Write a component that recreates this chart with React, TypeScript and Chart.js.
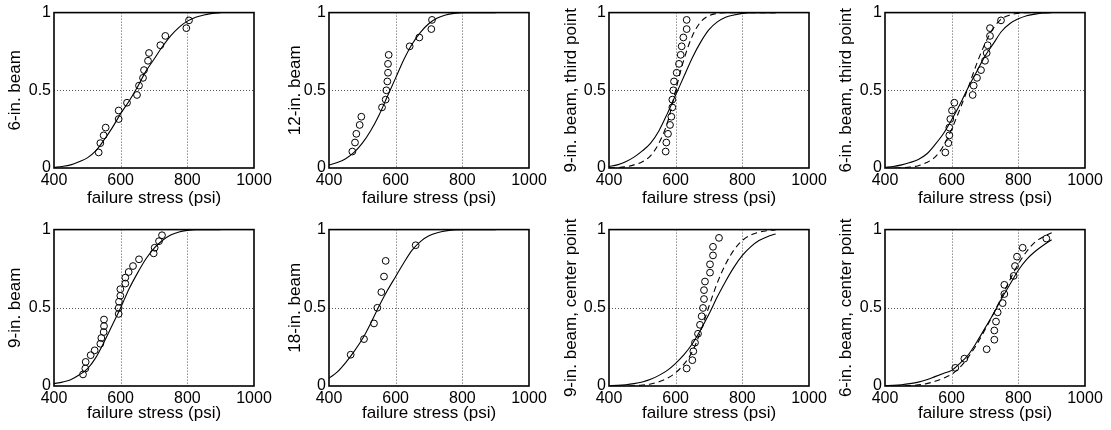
import { useEffect, useRef } from 'react';
import { Chart, registerables } from 'chart.js';

Chart.register(...registerables);

// ---------- data ----------
const curveX = [400, 425, 450, 475, 500, 525, 550, 575, 600, 625, 650, 675, 700, 725, 750, 775, 800, 825, 850, 875, 900];
const xTicks = [400, 600, 800, 1000];
const yTicks = [0, 0.5, 1];
const xTitle = 'failure stress (psi)';

const labels = [
  '6-in. beam',
  '12-in. beam',
  '9-in. beam, third point',
  '6-in. beam, third point',
  '9-in. beam',
  '18-in. beam',
  '9-in. beam, center point',
  '6-in. beam, center point',
];

// panel 1: 6-in. beam
const p1x = [534, 539, 549, 555, 594, 594, 619, 649, 655, 667, 670, 682, 685, 719, 734, 797, 805];
const p1y = [0.10, 0.16, 0.21, 0.26, 0.315, 0.37, 0.42, 0.47, 0.53, 0.58, 0.63, 0.69, 0.74, 0.79, 0.85, 0.90, 0.95];
const solid1 = [0.004, 0.01, 0.02, 0.04, 0.065, 0.11, 0.18, 0.26, 0.35, 0.43, 0.52, 0.62, 0.70, 0.78, 0.85, 0.905, 0.945, 0.97, 0.985, 0.995, 1.0];

// panel 2: 12-in. beam
const p2x = [470, 478, 482, 492, 497, 559, 570, 572, 575, 577, 577, 579, 642, 671, 707, 709];
const p2y = [0.106, 0.164, 0.22, 0.277, 0.33, 0.39, 0.44, 0.50, 0.557, 0.613, 0.67, 0.728, 0.783, 0.84, 0.894, 0.953];
const solid2 = [0.02, 0.035, 0.06, 0.10, 0.16, 0.24, 0.34, 0.46, 0.58, 0.70, 0.80, 0.875, 0.93, 0.965, 0.985, 0.995, 1.0, 1.0, 1.0, 1.0, 1.0];

// panel 3: 9-in. beam, third point
const p3x = [570, 572, 577, 583, 587, 590, 590, 593, 595, 603, 610, 615, 618, 623, 633, 633];
const p3y = [0.106, 0.164, 0.22, 0.277, 0.33, 0.39, 0.44, 0.50, 0.557, 0.613, 0.67, 0.728, 0.783, 0.84, 0.894, 0.953];
const solid3 = [0.01, 0.02, 0.04, 0.07, 0.11, 0.16, 0.24, 0.35, 0.47, 0.59, 0.71, 0.81, 0.89, 0.94, 0.97, 0.985, 0.995, 1.0, 1.0, 1.0, 1.0];
const dashed3 = [0.0, 0.002, 0.008, 0.02, 0.04, 0.08, 0.16, 0.29, 0.50, 0.70, 0.85, 0.94, 0.98, 0.995, 1.0, 1.0, 1.0, 1.0, 1.0, 1.0, 1.0];

// panel 4: 6-in. beam, third point
const p4x = [581, 590, 593, 593, 596, 601, 608, 663, 666, 676, 688, 700, 705, 708, 715, 715, 748];
const p4y = [0.10, 0.16, 0.21, 0.26, 0.315, 0.37, 0.42, 0.47, 0.53, 0.58, 0.63, 0.69, 0.74, 0.79, 0.85, 0.90, 0.95];
const solid4 = [0.005, 0.01, 0.02, 0.035, 0.055, 0.09, 0.15, 0.22, 0.31, 0.41, 0.52, 0.62, 0.72, 0.80, 0.88, 0.93, 0.96, 0.98, 0.99, 0.997, 1.0];
const dashed4 = [0.0, 0.0, 0.002, 0.006, 0.015, 0.035, 0.07, 0.14, 0.25, 0.38, 0.52, 0.67, 0.80, 0.90, 0.96, 0.985, 0.995, 1.0, 1.0, 1.0, 1.0];

// panel 5: 9-in. beam
const p5x = [487, 494, 495, 510, 522, 539, 542, 549, 550, 550, 594, 594, 595, 599, 599, 614, 614, 624, 637, 655, 699, 702, 715, 724];
const p5y = [0.074, 0.112, 0.154, 0.197, 0.228, 0.27, 0.307, 0.345, 0.383, 0.425, 0.461, 0.499, 0.539, 0.577, 0.619, 0.655, 0.693, 0.729, 0.767, 0.81, 0.848, 0.884, 0.926, 0.964];
const solid5 = [0.015, 0.025, 0.04, 0.07, 0.11, 0.18, 0.28, 0.39, 0.50, 0.62, 0.72, 0.81, 0.88, 0.93, 0.965, 0.985, 0.995, 1.0, 1.0, 1.0, 1.0];

// panel 6: 18-in. beam
const p6x = [465, 505, 535, 545, 557, 565, 570, 660];
const p6y = [0.20, 0.30, 0.40, 0.50, 0.60, 0.70, 0.80, 0.90];
const solid6 = [0.05, 0.09, 0.15, 0.22, 0.30, 0.40, 0.51, 0.61, 0.70, 0.79, 0.87, 0.925, 0.96, 0.98, 0.992, 0.998, 1.0, 1.0, 1.0, 1.0, 1.0];

// panel 7: 9-in. beam, center point
const p7x = [633, 650, 653, 658, 667, 673, 678, 682, 685, 685, 688, 703, 703, 712, 712, 730];
const p7y = [0.112, 0.165, 0.222, 0.277, 0.334, 0.391, 0.446, 0.499, 0.556, 0.613, 0.668, 0.725, 0.778, 0.835, 0.89, 0.947];
const solid7 = [0.002, 0.004, 0.008, 0.015, 0.026, 0.043, 0.068, 0.10, 0.145, 0.20, 0.27, 0.36, 0.46, 0.57, 0.67, 0.76, 0.835, 0.89, 0.93, 0.955, 0.972];
const dashed7 = [0.0, 0.0, 0.0, 0.002, 0.006, 0.013, 0.027, 0.05, 0.085, 0.14, 0.22, 0.35, 0.51, 0.66, 0.78, 0.87, 0.93, 0.965, 0.983, 0.993, 0.998];

// panel 8: 6-in. beam, center point
const p8x = [611, 638, 705, 728, 728, 733, 738, 753, 758, 758, 786, 790, 796, 813, 884];
const p8y = [0.116, 0.175, 0.235, 0.296, 0.355, 0.412, 0.471, 0.53, 0.588, 0.647, 0.704, 0.767, 0.827, 0.884, 0.943];
const solid8 = [0.002, 0.004, 0.008, 0.015, 0.025, 0.04, 0.06, 0.08, 0.10, 0.145, 0.20, 0.28, 0.37, 0.46, 0.56, 0.65, 0.74, 0.81, 0.86, 0.90, 0.935];
const dashed8 = [0.0, 0.0, 0.001, 0.003, 0.007, 0.015, 0.03, 0.05, 0.075, 0.12, 0.185, 0.265, 0.36, 0.46, 0.57, 0.68, 0.78, 0.86, 0.92, 0.955, 0.98];

const pointsX = [p1x, p2x, p3x, p4x, p5x, p6x, p7x, p8x];
const pointsY = [p1y, p2y, p3y, p4y, p5y, p6y, p7y, p8y];
const solids = [solid1, solid2, solid3, solid4, solid5, solid6, solid7, solid8];
const dashes: (number[] | null)[] = [null, null, dashed3, dashed4, null, null, dashed7, dashed8];

// ---------- layout ----------
const FONT = '"Liberation Sans", Arial, Helvetica, sans-serif';
const colLeft = [54, 329, 609, 885];
const rowTop = [12, 229];
const rowBoxH = [156, 157];
const boxW = 200;
const padL = 54;
const padT = 12;
const padR = 22;
const padB = 50;
const yLabelX = [15.5, 20.5, 16.5, 15.5];
const xTitlePadBottom = [9.8, 12.3];

const framePlugin = {
  id: 'frame',
  beforeDatasetsDraw(chart: any) {
    const { ctx, chartArea: a, scales } = chart;
    const xs = scales.x;
    const ys = scales.y;
    ctx.save();
    ctx.strokeStyle = '#555';
    ctx.lineWidth = 1;
    ctx.setLineDash([1, 2]);
    xTicks.slice(1, -1).forEach((v) => {
      const px = Math.round(xs.getPixelForValue(v)) + 0.5;
      ctx.beginPath();
      ctx.moveTo(px, a.top);
      ctx.lineTo(px, a.bottom);
      ctx.stroke();
    });
    yTicks.slice(1, -1).forEach((v) => {
      const py = Math.round(ys.getPixelForValue(v)) + 0.5;
      ctx.beginPath();
      ctx.moveTo(a.left, py);
      ctx.lineTo(a.right, py);
      ctx.stroke();
    });
    ctx.restore();
  },
  afterDatasetsDraw(chart: any) {
    const { ctx, chartArea: a } = chart;
    ctx.save();
    ctx.strokeStyle = '#000';
    ctx.lineWidth = 1.6;
    ctx.setLineDash([]);
    ctx.strokeRect(a.left, a.top, a.right - a.left, a.bottom - a.top);
    ctx.restore();
  },
};

const yLabelPlugin = {
  id: 'ylabel',
  afterDraw(chart: any, _args: any, opts: any) {
    const { ctx, chartArea: a } = chart;
    ctx.save();
    ctx.translate(opts.x, (a.top + a.bottom) / 2);
    ctx.rotate(-Math.PI / 2);
    ctx.fillStyle = '#000';
    ctx.font = `17px ${FONT}`;
    ctx.textAlign = 'center';
    ctx.textBaseline = 'middle';
    ctx.fillText(opts.text, 0, 0);
    ctx.restore();
  },
};

function Panel({ idx }: { idx: number }) {
  const ref = useRef<HTMLCanvasElement>(null);
  const row = Math.floor(idx / 4);
  const col = idx % 4;
  const cw = padL + boxW + padR;
  const ch = padT + rowBoxH[row] + padB;

  useEffect(() => {
    const datasets: any[] = [
      {
        data: pointsX[idx].map((x, i) => ({ x, y: pointsY[idx][i] })),
        showLine: false,
        pointStyle: 'circle',
        pointRadius: 3.4,
        pointHoverRadius: 3.4,
        pointBorderWidth: 1,
        pointBorderColor: '#000',
        pointBackgroundColor: 'rgba(0,0,0,0)',
        borderColor: '#000',
        backgroundColor: 'rgba(0,0,0,0)',
      },
      {
        data: curveX.map((x, i) => ({ x, y: solids[idx][i] })),
        showLine: true,
        pointRadius: 0,
        borderColor: '#000',
        borderWidth: 1.1,
        cubicInterpolationMode: 'monotone',
        fill: false,
      },
    ];
    const d = dashes[idx];
    if (d) {
      datasets.push({
        data: curveX.map((x, i) => ({ x, y: d[i] })),
        showLine: true,
        pointRadius: 0,
        borderColor: '#000',
        borderWidth: 1.1,
        borderDash: [6, 4],
        cubicInterpolationMode: 'monotone',
        fill: false,
      });
    }
    const chart = new Chart(ref.current as HTMLCanvasElement, {
      type: 'scatter',
      data: { datasets },
      options: {
        animation: false,
        responsive: false,
        devicePixelRatio: 1,
        events: [],
        layout: { padding: { left: 0, top: padT, right: padR, bottom: 0 } },
        plugins: {
          legend: { display: false },
          tooltip: { enabled: false },
          ylabel: { text: labels[idx], x: yLabelX[col] },
        } as any,
        scales: {
          x: {
            type: 'linear',
            min: xTicks[0],
            max: xTicks[xTicks.length - 1],
            afterBuildTicks: (s: any) => {
              s.ticks = xTicks.map((v) => ({ value: v }));
            },
            afterFit: (s: any) => {
              s.height = padB;
            },
            ticks: {
              callback: (v: any) => String(v),
              font: { family: FONT, size: 16 },
              color: '#000',
              padding: 3,
              maxRotation: 0,
              autoSkip: false,
            },
            grid: { display: false, drawTicks: false },
            border: { display: false },
            title: {
              display: true,
              text: xTitle,
              color: '#000',
              font: { family: FONT, size: 17 },
              padding: { top: 0, bottom: xTitlePadBottom[row] },
            },
          },
          y: {
            type: 'linear',
            min: yTicks[0],
            max: yTicks[yTicks.length - 1],
            afterBuildTicks: (s: any) => {
              s.ticks = yTicks.map((v) => ({ value: v }));
            },
            afterFit: (s: any) => {
              s.width = padL;
            },
            ticks: {
              callback: (v: any) => String(v),
              font: { family: FONT, size: 16 },
              color: '#000',
              padding: 3,
              autoSkip: false,
            },
            grid: { display: false, drawTicks: false },
            border: { display: false },
          },
        },
      } as any,
      plugins: [framePlugin, yLabelPlugin],
    });
    return () => chart.destroy();
  }, [idx]);

  return (
    <canvas
      ref={ref}
      width={cw}
      height={ch}
      style={{
        position: 'absolute',
        left: colLeft[col] - padL,
        top: rowTop[row] - padT,
        width: cw,
        height: ch,
      }}
    />
  );
}

export default function App() {
  return (
    <div style={{ position: 'absolute', left: 0, top: 0, width: 1111, height: 430, background: '#fff' }}>
      {labels.map((_, i) => (
        <Panel key={i} idx={i} />
      ))}
    </div>
  );
}
